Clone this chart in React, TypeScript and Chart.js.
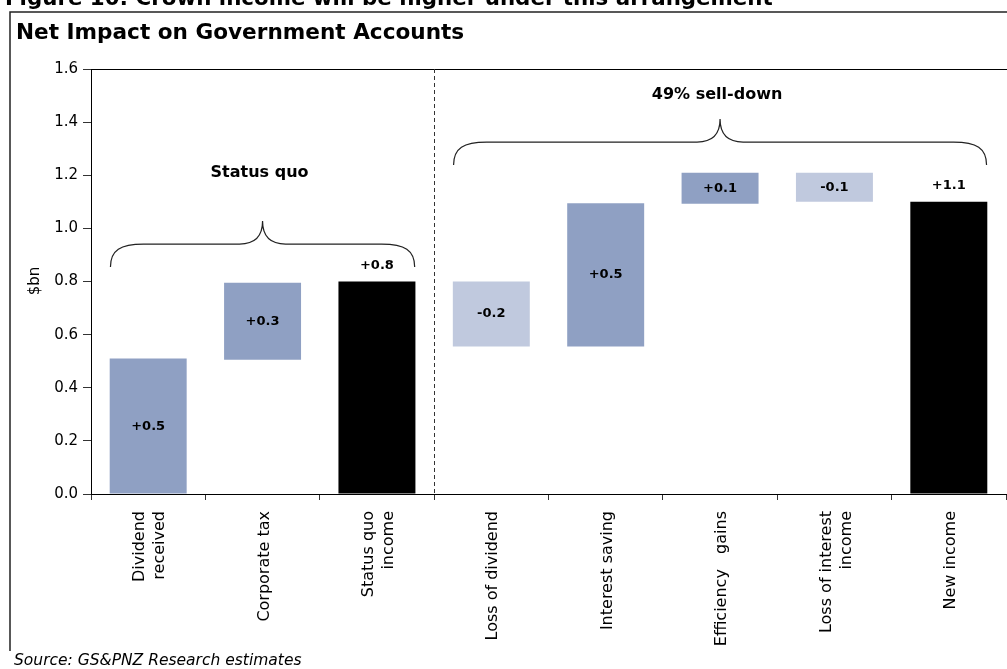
import React, { useEffect, useRef } from "react";
import { Chart, registerables } from "chart.js";

Chart.register(...registerables);

// ---------- data ----------
const categories: (string | string[])[] = [
  ["Dividend", "received"],
  "Corporate tax",
  ["Status quo", "income"],
  "Loss of dividend",
  "Interest saving",
  "Efficiency   gains",
  ["Loss of interest", "income"],
  "New income",
];
const barStarts = [0, 0.505, 0, 0.555, 0.555, 1.093, 1.1, 0];
const barEnds = [0.51, 0.795, 0.8, 0.8, 1.095, 1.209, 1.209, 1.1];
const valueLabels = ["+0.5", "+0.3", "+0.8", "-0.2", "+0.5", "+0.1", "-0.1", "+1.1"];
const labelAbove = [false, false, true, false, false, false, false, true];
const yTickValues = [0, 0.2, 0.4, 0.6, 0.8, 1.0, 1.2, 1.4, 1.6];
const groupLabels = ["Status quo", "49% sell-down"];
const groupFirst = [0, 3];
const groupLast = [2, 7];

// ---------- styles ----------
const MID = "#8fa0c3";
const LIGHT = "#c0c9de";
const BLACK = "#000000";
const barColors = [MID, MID, BLACK, LIGHT, MID, MID, LIGHT, BLACK];
const FONT = "'DejaVu Sans', Verdana, sans-serif";
const braceLevels = [0.941, 1.325]; // value level of brace line
const groupLabelLevels = [1.21, 1.502];

const W = 1007;
const H = 669;

function drawBrace(ctx: CanvasRenderingContext2D, xL: number, xR: number, y: number) {
  const xM = (xL + xR) / 2;
  const d = 23;
  const c = 33;
  ctx.beginPath();
  ctx.moveTo(xL, y + d);
  ctx.bezierCurveTo(xL, y + 6, xL + 10, y, xL + c, y);
  ctx.lineTo(xM - d, y);
  ctx.bezierCurveTo(xM - 7, y, xM, y - 8, xM, y - d);
  ctx.bezierCurveTo(xM, y - 8, xM + 7, y, xM + d, y);
  ctx.lineTo(xR - c, y);
  ctx.bezierCurveTo(xR - 10, y, xR, y + 6, xR, y + d);
  ctx.stroke();
}

const decorPlugin = {
  id: "decor",
  beforeDraw(chart: any) {
    const ctx = chart.ctx as CanvasRenderingContext2D;
    ctx.save();
    ctx.fillStyle = "#fff";
    ctx.fillRect(0, 0, W, H);
    ctx.restore();
  },
  afterDraw(chart: any) {
    const ctx = chart.ctx as CanvasRenderingContext2D;
    const xs = chart.scales.x;
    const ys = chart.scales.y;
    const area = chart.chartArea;
    ctx.save();

    // caption (cut off at top)
    ctx.fillStyle = "#000";
    const cap = "Figure 10: Crown income will be higher under this arrangement";
    let fs = 18;
    ctx.font = `bold ${fs}px ${FONT}`;
    const wm = ctx.measureText(cap).width;
    fs = (fs * 768) / wm;
    ctx.font = `bold ${fs}px ${FONT}`;
    ctx.textAlign = "left";
    ctx.textBaseline = "alphabetic";
    ctx.fillText(cap, 5, 5);

    // outer box
    ctx.strokeStyle = "#222";
    ctx.lineWidth = 1.5;
    ctx.beginPath();
    ctx.moveTo(W, 12);
    ctx.lineTo(10, 12);
    ctx.lineTo(10, 651);
    ctx.stroke();

    // title
    ctx.font = `bold 21.6px ${FONT}`;
    ctx.fillText("Net Impact on Government Accounts", 16, 39);

    // plot top border
    ctx.strokeStyle = "#000";
    ctx.lineWidth = 1;
    ctx.beginPath();
    ctx.moveTo(area.left, Math.round(area.top) + 0.5);
    ctx.lineTo(W, Math.round(area.top) + 0.5);
    ctx.stroke();

    // dashed separator between groups
    const xSep = Math.round((xs.getPixelForValue(2) + xs.getPixelForValue(3)) / 2) + 0.5;
    ctx.setLineDash([4, 3]);
    ctx.strokeStyle = "#333";
    ctx.beginPath();
    ctx.moveTo(xSep, area.top);
    ctx.lineTo(xSep, area.bottom);
    ctx.stroke();
    ctx.setLineDash([]);

    // braces and group labels
    const catW = xs.getPixelForValue(1) - xs.getPixelForValue(0);
    ctx.strokeStyle = "#222";
    ctx.lineWidth = 1.2;
    for (let g = 0; g < groupLabels.length; g++) {
      const xL = xs.getPixelForValue(groupFirst[g]) - catW * 0.33;
      const xR = xs.getPixelForValue(groupLast[g]) + catW * 0.33;
      const y = ys.getPixelForValue(braceLevels[g]);
      drawBrace(ctx, xL, xR, y);
      ctx.font = `bold 16px ${FONT}`;
      ctx.textAlign = "center";
      ctx.textBaseline = "middle";
      ctx.fillStyle = "#000";
      ctx.fillText(groupLabels[g], (xL + xR) / 2 - 3, ys.getPixelForValue(groupLabelLevels[g]));
    }

    // value labels
    ctx.font = `bold 13px ${FONT}`;
    ctx.textAlign = "center";
    ctx.textBaseline = "middle";
    for (let i = 0; i < valueLabels.length; i++) {
      const x = xs.getPixelForValue(i);
      let y;
      if (labelAbove[i]) y = ys.getPixelForValue(barEnds[i]) - 16;
      else y = (ys.getPixelForValue(barStarts[i]) + ys.getPixelForValue(barEnds[i])) / 2;
      ctx.fillText(valueLabels[i], x, y);
    }

    // category labels (rotated, multi-line centred on the tick)
    ctx.font = `16px ${FONT}`;
    ctx.textAlign = "right";
    ctx.textBaseline = "middle";
    const lineGap = 20;
    for (let i = 0; i < categories.length; i++) {
      const lines = Array.isArray(categories[i]) ? (categories[i] as string[]) : [categories[i] as string];
      const cx = xs.getPixelForValue(i) + 2;
      for (let j = 0; j < lines.length; j++) {
        const lx = cx + (j - (lines.length - 1) / 2) * lineGap;
        ctx.save();
        ctx.translate(lx, area.bottom + 17);
        ctx.rotate(-Math.PI / 2);
        ctx.fillText(lines[j], 0, 0);
        ctx.restore();
      }
    }

    // y axis title
    ctx.save();
    ctx.translate(35, 281);
    ctx.rotate(-Math.PI / 2);
    ctx.textAlign = "center";
    ctx.font = `15px ${FONT}`;
    ctx.fillText("$bn", 0, 0);
    ctx.restore();

    // source
    ctx.font = `italic 15.5px ${FONT}`;
    ctx.textAlign = "left";
    ctx.textBaseline = "alphabetic";
    ctx.fillText("Source: GS&PNZ Research estimates", 14, 665);

    ctx.restore();
  },
};

export default function App() {
  const ref = useRef<HTMLCanvasElement>(null);
  useEffect(() => {
    if (!ref.current) return;
    const chart = new Chart(ref.current, {
      type: "bar",
      data: {
        labels: categories,
        datasets: [
          {
            data: barStarts.map((s, i) => [s, barEnds[i]]) as any,
            backgroundColor: barColors,
            borderWidth: 0,
            borderSkipped: false,
            barPercentage: 0.673,
            categoryPercentage: 1,
          },
        ],
      },
      options: {
        animation: false,
        responsive: false,
        devicePixelRatio: 1,
        layout: { padding: { top: 69, left: 0, right: 1, bottom: 0 } },
        plugins: {
          legend: { display: false },
          tooltip: { enabled: false },
          title: { display: false },
        },
        scales: {
          x: {
            offset: true,
            grid: {
              offset: true,
              drawOnChartArea: false,
              drawTicks: true,
              tickLength: 6,
              color: "#333",
            },
            border: { color: "#000", width: 1 },
            ticks: {
              display: false,
              autoSkip: false,
            },
            afterFit: (s: any) => {
              s.height = 175;
            },
          },
          y: {
            min: 0,
            max: 1.6,
            afterBuildTicks: (s: any) => {
              s.ticks = yTickValues.map((v) => ({ value: v }));
            },
            grid: {
              drawOnChartArea: false,
              drawTicks: true,
              tickLength: 8,
              color: "#333",
            },
            border: { color: "#000", width: 1 },
            ticks: {
              color: "#000",
              font: { family: FONT, size: 15 },
              padding: 5,
              callback: (v: any) => Number(v).toFixed(1),
            },
            afterFit: (s: any) => {
              s.width = 91;
            },
          },
        },
      },
      plugins: [decorPlugin],
    });
    return () => chart.destroy();
  }, []);
  return (
    <div style={{ position: "absolute", left: 0, top: 0, width: W, height: H, background: "#fff" }}>
      <canvas ref={ref} width={W} height={H} style={{ width: W, height: H, display: "block" }} />
    </div>
  );
}
